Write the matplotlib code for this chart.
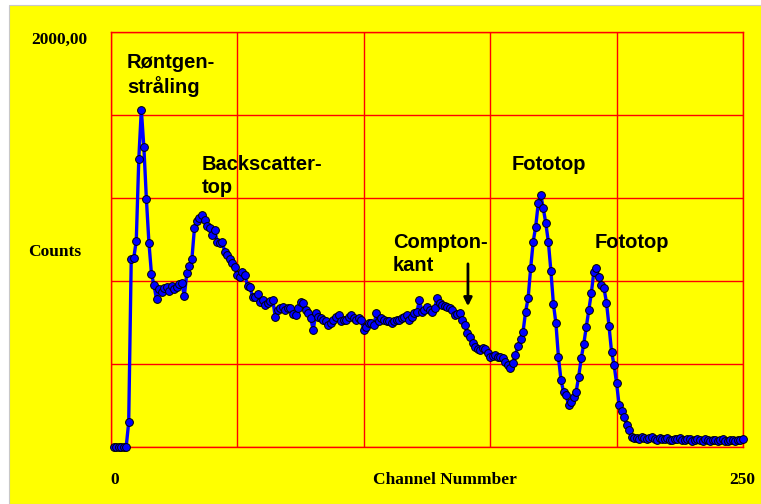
import matplotlib.pyplot as plt
from matplotlib.patches import Rectangle

# Gamma spectrum, counts per channel (channels 1..250)
channels = list(range(1, 251))
counts = [
    0, 0, 0, 0, 0, 0, 119, 905, 910, 995,
    1390, 1625, 1445, 1195, 985, 835, 780, 712, 760, 745,
    765, 770, 750, 775, 760, 770, 785, 790, 728, 838,
    874, 906, 1054, 1088, 1102, 1118, 1094, 1067, 1054, 1022,
    1046, 989, 984, 989, 941, 925, 905, 885, 869, 829,
    821, 845, 829, 776, 770, 724, 721, 736, 700, 708,
    684, 692, 705, 708, 625, 660, 668, 676, 660, 668,
    668, 640, 636, 668, 700, 692, 660, 644, 620, 564,
    644, 625, 620, 612, 605, 588, 600, 612, 628, 636,
    605, 612, 612, 628, 636, 620, 612, 620, 612, 564,
    580, 596, 600, 588, 644, 605, 620, 612, 605, 605,
    596, 605, 612, 612, 620, 628, 636, 612, 628, 644,
    650, 708, 652, 660, 676, 660, 652, 668, 716, 692,
    684, 680, 676, 668, 660, 636, 640, 645, 612, 590,
    548, 530, 500, 480, 470, 467, 476, 470, 451, 435,
    440, 443, 435, 432, 427, 411, 395, 379, 403, 443,
    485, 520, 556, 652, 717, 861, 989, 1062, 1174, 1214,
    1150, 1078, 989, 850, 690, 596, 432, 323, 267, 251,
    202, 218, 242, 267, 339, 427, 496, 577, 660, 741,
    845, 861, 821, 781, 765, 696, 583, 459, 395, 307,
    202, 175, 146, 106, 82, 50, 42, 45, 40, 50,
    42, 38, 45, 48, 40, 36, 44, 40, 38, 42,
    35, 32, 38, 40, 42, 36, 33, 40, 38, 30,
    36, 40, 34, 30, 38, 35, 28, 32, 36, 30,
    34, 38, 30, 28, 34, 32, 30, 36, 33, 38,
]

# Peak labels: (text, channel, counts at top of text)
labels = ['Røntgen-\nstråling', 'Backscatter-\ntop', 'Compton-\nkant', 'Fototop', 'Fototop']
label_x = [6.3, 36, 111.5, 158.6, 191.5]
label_y = [1900, 1407, 1031, 1407, 1031]

# Compton edge arrow
arrow_x = 141.2
arrow_from = 896
arrow_to = 665

W, H = 761, 504
fig = plt.figure(figsize=(W / 100, H / 100), dpi=100, facecolor='white')
fig.patches.append(Rectangle((9 / W, 0), 1 - 9 / W, 1 - 5 / H, transform=fig.transFigure,
                             facecolor='#ffff00', edgecolor='#c8c8c8', lw=0.8, zorder=-1))

ax = fig.add_axes([111 / W, 1 - 447 / H, 632 / W, 415 / H])
ax.set_facecolor('#ffff00')
ax.set_xlim(0, 250)
ax.set_ylim(0, 2000)
ax.set_xticks(range(0, 251, 50))
ax.set_yticks(range(0, 2001, 400))
ax.tick_params(length=0, labelbottom=False, labelleft=False)
ax.grid(True, color='#ff0000', lw=1.0)
for s in ax.spines.values():
    s.set_color('#ff0000')
    s.set_linewidth(1.0)

ax.plot(channels, counts, color='#0000ff', lw=2.4, marker='o', ms=5.6,
        mfc='#0000ff', mec='black', mew=0.7, clip_on=False, zorder=3)

for t, x, y in zip(labels, label_x, label_y):
    ax.text(x, y, t, fontsize=14.5, family='Liberation Sans', fontweight='bold',
            va='top', ha='left', linespacing=1.25, color='black')

ax.annotate('', xy=(arrow_x, arrow_to), xytext=(arrow_x, arrow_from),
            arrowprops=dict(arrowstyle='-|>', color='black', lw=2, mutation_scale=12))

serif = dict(family='Liberation Serif', fontweight='bold', fontsize=12.5, color='black')
fig.text(59 / W, 1 - 40 / H, '2000,00', ha='center', va='center', **serif)
fig.text(55 / W, 1 - 252 / H, 'Counts', ha='center', va='center', **serif)
fig.text(115 / W, 1 - 480 / H, '0', ha='center', va='center', **serif)
fig.text(742 / W, 1 - 480 / H, '250', ha='center', va='center', **serif)
fig.text(445 / W, 1 - 480 / H, 'Channel Nummber', ha='center', va='center', **serif)

fig.savefig('out.png', dpi=100, facecolor=fig.get_facecolor())
